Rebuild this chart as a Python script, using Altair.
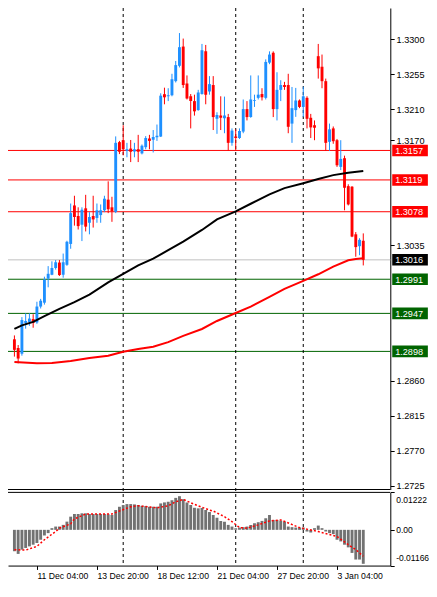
import altair as alt
import pandas as pd

# ---------------- data ----------------
bar_index = list(range(94))

opens = [1.29136, 1.29024, 1.28950, 1.29347, 1.29360, 1.29397, 1.29353, 1.29558, 1.29608, 1.29918,
         1.29968, 1.30055, 1.30125, 1.29968, 1.30096, 1.30365, 1.30861, 1.30725, 1.30613, 1.30824,
         1.30638, 1.30725, 1.30700, 1.30737, 1.30799, 1.30936, 1.30837, 1.30778, 1.31677, 1.31702,
         1.31565, 1.31594, 1.31556, 1.31585, 1.31532, 1.31612, 1.31724, 1.31709, 1.31739, 1.31749,
         1.32295, 1.32268, 1.32280, 1.32463, 1.32661, 1.32909, 1.32434, 1.32268, 1.32206, 1.32090,
         1.32297, 1.32847, 1.32330, 1.32413, 1.31978, 1.32019, 1.31985, 1.32000, 1.31668, 1.31751,
         1.31730, 1.31813, 1.32103, 1.32000, 1.32206, 1.32248, 1.32297, 1.32248, 1.32702, 1.32829,
         1.32103, 1.32351, 1.32413, 1.32413, 1.31916, 1.32090, 1.32214, 1.32131, 1.32248, 1.31991,
         1.31895, 1.32785, 1.32649, 1.32463, 1.31681, 1.31854, 1.31702, 1.31358, 1.31470, 1.31110,
         1.31103, 1.30489, 1.30336, 1.30406]
highs = [1.29186, 1.29062, 1.29422, 1.29471, 1.29471, 1.29459, 1.29620, 1.29657, 1.29943, 1.30079,
         1.30141, 1.30158, 1.30158, 1.30241, 1.30406, 1.30886, 1.30986, 1.30837, 1.30837, 1.30998,
         1.30775, 1.30986, 1.30886, 1.30874, 1.30986, 1.31172, 1.30973, 1.31751, 1.31693, 1.31895,
         1.31668, 1.31705, 1.31668, 1.31771, 1.31647, 1.31755, 1.31771, 1.31833, 1.31904, 1.32307,
         1.32379, 1.32372, 1.32558, 1.32723, 1.33083, 1.33012, 1.32537, 1.32297, 1.32289, 1.32351,
         1.32943, 1.32930, 1.32528, 1.32528, 1.32062, 1.32268, 1.32264, 1.32041, 1.31854, 1.31842,
         1.31854, 1.32227, 1.32206, 1.32537, 1.32289, 1.32537, 1.32372, 1.32744, 1.32847, 1.32847,
         1.32578, 1.32475, 1.32454, 1.32558, 1.32388, 1.32376, 1.32227, 1.32392, 1.32268, 1.32041,
         1.31957, 1.32943, 1.32806, 1.32496, 1.31916, 1.31879, 1.31718, 1.31702, 1.31503, 1.31134,
         1.31110, 1.30518, 1.30439, 1.30501]
lows = [1.28913, 1.28826, 1.28925, 1.29273, 1.29310, 1.29285, 1.29335, 1.29533, 1.29583, 1.29806,
        1.29962, 1.30034, 1.29952, 1.29930, 1.30083, 1.30303, 1.30601, 1.30551, 1.30402, 1.30526,
        1.30489, 1.30576, 1.30638, 1.30638, 1.30775, 1.30762, 1.30650, 1.30762, 1.31523, 1.31507,
        1.31482, 1.31420, 1.31482, 1.31420, 1.31519, 1.31585, 1.31585, 1.31544, 1.31693, 1.31743,
        1.32165, 1.32206, 1.32268, 1.32446, 1.32640, 1.32376, 1.32227, 1.31854, 1.32019, 1.32082,
        1.32289, 1.32165, 1.32289, 1.31833, 1.31784, 1.31833, 1.31792, 1.31565, 1.31631, 1.31565,
        1.31718, 1.31792, 1.31957, 1.31991, 1.32131, 1.32227, 1.32214, 1.32227, 1.32682, 1.32000,
        1.31957, 1.32206, 1.32351, 1.31792, 1.31668, 1.32003, 1.32115, 1.32003, 1.31854, 1.31730,
        1.31702, 1.32496, 1.32372, 1.31565, 1.31565, 1.31656, 1.31358, 1.31317, 1.30799, 1.30861,
        1.30452, 1.30200, 1.30220, 1.30088]
closes = [1.29000, 1.28888, 1.29384, 1.29372, 1.29403, 1.29347, 1.29558, 1.29633, 1.29906, 1.29980,
          1.30055, 1.30129, 1.29964, 1.30129, 1.30393, 1.30762, 1.30712, 1.30595, 1.30806, 1.30588,
          1.30712, 1.30681, 1.30799, 1.30799, 1.30948, 1.30812, 1.30787, 1.31668, 1.31553, 1.31585,
          1.31585, 1.31553, 1.31585, 1.31553, 1.31631, 1.31730, 1.31693, 1.31743, 1.31759, 1.32276,
          1.32255, 1.32283, 1.32487, 1.32670, 1.32901, 1.32413, 1.32239, 1.32206, 1.32074, 1.32317,
          1.32860, 1.32289, 1.32425, 1.32000, 1.32028, 1.31991, 1.32019, 1.31668, 1.31826, 1.31730,
          1.31821, 1.32103, 1.32000, 1.32227, 1.32218, 1.32289, 1.32255, 1.32711, 1.32806, 1.32103,
          1.32351, 1.32413, 1.32388, 1.31875, 1.32115, 1.32214, 1.32131, 1.32268, 1.31978, 1.31867,
          1.31863, 1.32628, 1.32463, 1.31668, 1.31842, 1.31689, 1.31379, 1.31461, 1.31089, 1.30874,
          1.30460, 1.30324, 1.30418, 1.30160]

ma_slow_index = [0, 2, 5, 8, 12, 16, 20, 25, 29, 33, 37, 41, 45, 50, 54, 59, 63, 68, 72, 77, 81, 85, 89, 93]
ma_slow = [1.29269, 1.29316, 1.29360, 1.29434, 1.29527, 1.29614, 1.29713, 1.29870, 1.29980, 1.30088,
           1.30175, 1.30284, 1.30396, 1.30545, 1.30682, 1.30785, 1.30883, 1.31004, 1.31085, 1.31147,
           1.31203, 1.31252, 1.31283, 1.31306]
ma_long_index = [0, 6, 10, 15, 20, 25, 29, 33, 37, 41, 45, 50, 54, 59, 63, 68, 72, 77, 81, 85, 89, 91, 93]
ma_long = [1.28842, 1.28826, 1.28830, 1.28855, 1.28894, 1.28925, 1.28975, 1.29012, 1.29041, 1.29099,
           1.29180, 1.29269, 1.29372, 1.29475, 1.29558, 1.29682, 1.29785, 1.29890, 1.29974, 1.30073,
           1.30155, 1.30170, 1.30180]

macd_hist = [-0.00698, -0.00785, -0.00646, -0.00591, -0.00539, -0.00485, -0.00430, -0.00323, -0.00184, -0.00107,
             0.00055, 0.00107, 0.00107, 0.00162, 0.00268, 0.00430, 0.00517, 0.00517, 0.00539, 0.00539,
             0.00517, 0.00517, 0.00517, 0.00517, 0.00517, 0.00507, 0.00485, 0.00646, 0.00753, 0.00808,
             0.00840, 0.00840, 0.00830, 0.00808, 0.00785, 0.00775, 0.00753, 0.00753, 0.00753, 0.00862,
             0.00895, 0.00914, 0.00969, 0.01043, 0.01098, 0.01001, 0.00895, 0.00808, 0.00720, 0.00701,
             0.00710, 0.00646, 0.00581, 0.00485, 0.00397, 0.00291, 0.00268, 0.00162, 0.00107, 0.00055,
             0.00074, 0.00087, 0.00107, 0.00162, 0.00216, 0.00249, 0.00291, 0.00378, 0.00485, 0.00323,
             0.00323, 0.00300, 0.00268, 0.00107, 0.00087, 0.00074, 0.00074, 0.00074, -0.00055, -0.00087,
             0.00055, 0.00139, 0.00055, -0.00055, -0.00107, -0.00139, -0.00323, -0.00378, -0.00485, -0.00572,
             -0.00753, -0.00969, -0.00969, -0.01108]
signal_index = [0, 3, 6, 8, 11, 12, 15, 16, 19, 25, 26, 28, 31, 33, 38, 41, 43, 45, 48, 52, 53, 56, 58,
                60, 62, 65, 68, 71, 76, 81, 86, 89, 91, 93]
signal_vals = [-0.00646, -0.00662, -0.00539, -0.00323, -0.00055, 0.00055, 0.00194, 0.00355, 0.00517, 0.00517,
               0.00517, 0.00614, 0.00753, 0.00785, 0.00720, 0.00785, 0.00914, 0.00992, 0.00830, 0.00646,
               0.00614, 0.00430, 0.00268, 0.00074, 0.00055, 0.00162, 0.00291, 0.00323, 0.00074, -0.00055,
               -0.00216, -0.00485, -0.00646, -0.00862]

level_prices = [1.3157, 1.3119, 1.3078, 1.3016, 1.2991, 1.2947, 1.2898]
level_labels = ["1.3157", "1.3119", "1.3078", "1.3016", "1.2991", "1.2947", "1.2898"]
level_line_colors = ["#FF0000", "#FF0000", "#FF0000", "#C0C0C0", "#006400", "#006400", "#006400"]
level_box_colors = ["#FF0000", "#FF0000", "#FF0000", "#000000", "#006400", "#006400", "#006400"]

separator_index = [29, 59, 77]
price_ticks = [1.3300, 1.3255, 1.3210, 1.3170, 1.3035, 1.2860, 1.2815, 1.2770, 1.2725]
time_tick_index = [6, 22, 38, 54, 70, 86]
time_labels = ["11 Dec 04:00", "13 Dec 20:00", "18 Dec 12:00", "21 Dec 04:00", "27 Dec 20:00", "3 Jan 04:00"]
macd_ticks = [0.01222, 0.0, -0.01166]
price_window = [1.27200, 1.33406]
macd_window = [-0.01166, 0.01222]

# ---------------- layout (the page leaves about 421 x 575 px for the drawing) ----------------
S = 0.963
W = 397 * S
MAIN_H = 500 * S
MACD_TOP, MACD_BOT = 503 * S, 579 * S
FONT = "Liberation Sans"
BULL = "#1E90FF"
BEAR = "#FF0000"

xs = alt.Scale(domain=[-0.375, 98.875], nice=False, zero=False)
ys = alt.Scale(domain=price_window, range=[MAIN_H, 0], nice=False, zero=False)
ms = alt.Scale(domain=macd_window, range=[MACD_BOT, MACD_TOP], nice=False, zero=False)

candles = pd.DataFrame({"i": bar_index, "open": opens, "high": highs, "low": lows, "close": closes})
candles["col"] = [BULL if c >= o else BEAR for o, c in zip(opens, closes)]
slow_df = pd.DataFrame({"i": ma_slow_index, "v": ma_slow})
long_df = pd.DataFrame({"i": ma_long_index, "v": ma_long})
levels = pd.DataFrame({"price": level_prices, "label": level_labels,
                       "line": level_line_colors, "box": level_box_colors})
seps = pd.DataFrame({"i": separator_index})
macd_df = pd.DataFrame({"i": bar_index, "m": macd_hist})
sig_df = pd.DataFrame({"i": signal_index, "s": signal_vals})
main_edge = pd.DataFrame({"p": [price_window[0]]})
macd_edge = pd.DataFrame({"m": [macd_window[1]]})

label_expr = ("['" + "','".join(time_labels) + "'][indexof(["
              + ",".join(str(v) for v in time_tick_index) + "], datum.value)]")
time_axis = alt.Axis(values=time_tick_index, labelExpr=label_expr, orient="bottom",
                     labelAlign="left", labelBaseline="top", tickSize=4 * S, tickColor="black",
                     domain=True, domainColor="black", grid=False, labelFont=FONT, labelFontSize=9 * S,
                     labelColor="black", labelPadding=2, labelFlush=False, labelOverlap=False,
                     labelBound=False, title=None)
price_axis = alt.Axis(orient="right", values=price_ticks, format=".4f", tickSize=4 * S, tickColor="black",
                      domainColor="black", labelFont=FONT, labelFontSize=9.5 * S, labelColor="black",
                      labelPadding=2 * S, grid=False, title=None, labelOverlap=False)
macd_axis = alt.Axis(orient="right", values=macd_ticks,
                     labelExpr="datum.value > 0.001 ? '0.01222' : (datum.value < -0.001 ? '-0.01166' : '0.00')",
                     labelFlush=True, labelFlushOffset=-3, tickSize=4 * S, tickColor="black",
                     domainColor="black", labelFont=FONT, labelFontSize=8.5, labelColor="black",
                     labelPadding=1.5, grid=False, title=None, labelOverlap=False)

X = lambda: alt.X("i:Q", scale=xs, axis=time_axis)
YP = lambda f: alt.Y(f, scale=ys, axis=price_axis)
YM = lambda f: alt.Y(f, scale=ms, axis=macd_axis)

level_rules = alt.Chart(levels).mark_rule(strokeWidth=1).encode(
    y=YP("price:Q"), color=alt.Color("line:N", scale=None))
main_border = alt.Chart(main_edge).mark_rule(color="black", strokeWidth=1).encode(y=YP("p:Q"))
sep_rules = alt.Chart(seps).mark_rule(color="black", strokeDash=[3, 3], strokeWidth=1).encode(x=X())
wicks = alt.Chart(candles).mark_rule(strokeWidth=1).encode(
    x=X(), y=YP("low:Q"), y2="high:Q", color=alt.Color("col:N", scale=None))
bodies = alt.Chart(candles).mark_bar(size=3 * S).encode(
    x=X(), y=YP("open:Q"), y2="close:Q", color=alt.Color("col:N", scale=None))
slow_line = alt.Chart(slow_df).mark_line(color="black", strokeWidth=2).encode(x=X(), y=YP("v:Q"))
long_line = alt.Chart(long_df).mark_line(color="#FF0000", strokeWidth=2).encode(x=X(), y=YP("v:Q"))
boxes = alt.Chart(levels).mark_rect(width=37 * S, height=12 * S).encode(
    x=alt.value(417.5 * S), y=YP("price:Q"), color=alt.Color("box:N", scale=None))
box_text = alt.Chart(levels).mark_text(align="left", baseline="middle", font=FONT, fontSize=9.5 * S,
                                       color="white", dy=0.5).encode(
    x=alt.value(402 * S), y=YP("price:Q"), text="label:N")

main_group = alt.layer(level_rules, main_border, sep_rules, wicks, bodies, slow_line, long_line,
                       boxes, box_text)

macd_border = alt.Chart(macd_edge).mark_rule(color="black", strokeWidth=1).encode(y=YM("m:Q"))
hist = alt.Chart(macd_df).mark_bar(size=3 * S, color="#727272").encode(x=X(), y=YM("m:Q"))
sig = alt.Chart(sig_df).mark_line(color="#FF0000", strokeDash=[2, 2], strokeWidth=1.5).encode(
    x=X(), y=YM("s:Q"))
macd_group = alt.layer(macd_border, hist, sig)

chart = alt.layer(main_group, macd_group).resolve_scale(y="independent").resolve_axis(
    y="independent").properties(
    width=W, height=MACD_BOT,
    autosize=alt.AutoSizeParams(type="none"),
    padding={"left": 0, "top": 0, "right": 421 - W, "bottom": 575 - MACD_BOT},
    background="white",
).configure_view(stroke=None)

chart.save("out.html", embed_options={"renderer": "svg", "actions": False})
